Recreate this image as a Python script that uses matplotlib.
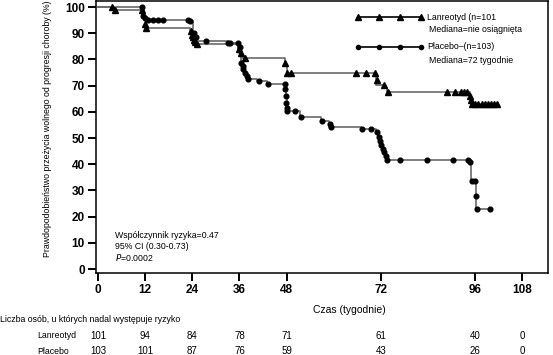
import numpy as np
import matplotlib
matplotlib.use("Agg")
import matplotlib.pyplot as plt
from matplotlib import transforms

plt.rcParams['font.family'] = ['Liberation Sans', 'DejaVu Sans']

# Kaplan-Meier steps (weeks, %)
lan_t = [0, 3.8, 11.8, 12.1, 23.5, 24.0, 24.5, 25.0, 35.6, 36.0, 36.6, 47.6, 48.0, 70.8, 72.6, 73.6, 94.6, 94.9, 101.5]
lan_s = [100, 99.0, 95.0, 92.2, 90.5, 88.8, 87.2, 85.8, 84.0, 82.5, 80.6, 78.0, 74.8, 70.3, 69.0, 67.4, 65.0, 62.9, 62.9]
# censor / event marks for Lanreotyd
lan_mt = [3.6, 4.3, 11.2, 12.0, 12.3, 23.6, 23.9, 24.2, 24.5, 24.8, 25.1, 35.9, 36.3, 37.3, 47.6, 48.0, 49.0,
          65.6, 68.2, 70.6, 71.0, 72.7, 73.8, 88.8, 90.8, 92.4, 93.2, 94.0, 94.7, 94.8,
          95.2, 96.0, 96.8, 97.6, 98.4, 99.2, 100.0, 100.8, 101.5]
lan_ms = [100, 99.0, 99.0, 93.5, 92.2, 91.0, 89.5, 88.5, 87.5, 86.5, 85.8, 84.0, 82.5, 80.6, 78.8, 74.8, 74.8,
          74.8, 74.8, 74.8, 72.0, 70.3, 67.4, 67.4, 67.4, 67.4, 67.4, 67.4, 66.0, 64.5,
          62.9, 62.9, 62.9, 62.9, 62.9, 62.9, 62.9, 62.9, 62.9]

pla_t = [0, 11.3, 11.8, 12.4, 23.3, 24.3, 24.8, 25.3, 33.0, 36.0, 36.3, 36.7, 37.0, 37.3, 37.7, 38.1, 40.5, 43.0,
         47.7, 47.85, 48.0, 48.2, 51.5, 56.8, 58.8, 66.8, 70.8, 71.3, 71.7, 72.0, 72.3, 72.7, 73.1, 73.6,
         94.8, 96.2, 99.7]
pla_s = [100, 96.6, 95.8, 95.0, 94.5, 90.0, 88.5, 87.2, 86.3, 84.8, 78.7, 77.6, 76.4, 75.0, 73.8, 72.6, 71.9, 70.7,
         68.8, 66.0, 63.5, 60.2, 58.2, 56.7, 54.4, 53.5, 52.5, 50.5, 49.0, 47.5, 46.0, 44.5, 43.0, 41.8,
         33.8, 22.8, 22.8]
pla_mt = [11.1, 11.5, 12.0, 12.7, 14.0, 15.3, 16.5, 23.0, 23.5, 24.5, 25.0, 27.5, 33.0, 33.6, 35.6, 36.1,
          36.4, 36.8, 37.0, 37.4, 37.9, 38.2, 41.0, 43.2, 47.6, 47.7, 47.8, 47.9, 48.0, 48.2, 50.2, 51.7,
          57.0, 59.0, 59.2, 67.2, 69.5, 71.0, 71.5, 71.8, 72.1, 72.4, 72.8, 73.2, 73.6, 76.8, 83.7, 90.3,
          94.1, 94.6, 95.1, 95.8, 96.2, 96.4, 99.7]
pla_ms = [100, 96.6, 95.8, 95.0, 95.0, 95.0, 95.0, 95.0, 94.5, 90.0, 88.5, 87.2, 86.3, 86.3, 86.3, 84.8,
          78.7, 77.6, 76.4, 75.0, 73.8, 72.6, 71.9, 70.7, 70.7, 68.8, 66.0, 63.5, 61.5, 60.2, 60.2, 58.2,
          56.7, 55.5, 54.4, 53.5, 53.5, 52.5, 50.5, 49.0, 47.5, 46.0, 44.5, 43.0, 41.8, 41.8, 41.8, 41.8,
          41.8, 41.0, 33.8, 33.8, 27.8, 22.8, 22.8]

xticks = [0, 12, 24, 36, 48, 72, 96, 108]
risk_lan = [101, 94, 84, 78, 71, 61, 40, 0]
risk_pla = [103, 101, 87, 76, 59, 43, 26, 0]

fig = plt.figure(figsize=(5.53, 3.55), dpi=100)
ax = fig.add_axes([0.1736, 0.231, 0.8174, 0.766])

line_col = '#6a6a6a'
ax.step(lan_t, lan_s, where='post', color=line_col, lw=1.2, zorder=2)
ax.step(pla_t, pla_s, where='post', color=line_col, lw=1.2, zorder=2)
ax.plot(lan_mt, lan_ms, ls='none', marker='^', ms=3.8, color='black', zorder=3)
ax.plot(pla_mt, pla_ms, ls='none', marker='o', ms=3.4, color='black', zorder=3)

ax.set_xlim(-0.5, 114.5)
ax.set_ylim(-1.5, 102.3)
ax.set_xticks(xticks)
ax.set_yticks(range(0, 101, 10))
ax.tick_params(axis='both', direction='out', length=6, width=1.4, labelsize=8.5, pad=2)
for lab in ax.get_xticklabels() + ax.get_yticklabels():
    lab.set_fontweight('bold')
for sp in ax.spines.values():
    sp.set_linewidth(1.1)

ax.set_ylabel('Prawdopodobieństwo przeżycia wolnego od progresji choroby (%)', fontsize=6.3)
ax.yaxis.set_label_coords(-0.097, 0.53)

# legend drawn by hand
lx = np.linspace(66.2, 82.2, 4)
ax.plot(lx, [96.2] * 4, color='black', lw=1.2, marker='^', ms=4.2)
ax.plot(lx, [84.8] * 4, color='black', lw=1.2, marker='o', ms=3.0)
ax.text(83.8, 96.2, 'Lanreotyd (n=101', fontsize=6.3, va='center')
ax.text(84.2, 91.3, 'Mediana=nie osiągnięta', fontsize=6.3, va='center')
ax.text(83.8, 84.8, 'Placebo\u2013(n=103)', fontsize=6.3, va='center')
ax.text(84.2, 79.8, 'Mediana=72 tygodnie', fontsize=6.3, va='center')

ax.text(4.3, 12.9, 'Współczynnik ryzyka=0.47', fontsize=6.3, va='center')
ax.text(4.3, 8.7, '95% CI (0.30-0.73)', fontsize=6.3, va='center')
ax.text(4.3, 4.6, '$P$=0.0002', fontsize=6.3, va='center')

trans = transforms.blended_transform_factory(ax.transData, fig.transFigure)
ax.text(64.0, 1 - 310 / 355, 'Czas (tygodnie)', transform=trans, fontsize=7.5, ha='center', va='center')
fig.text(0.0, 1 - 319 / 355, 'Liczba osób, u których nadal występuje ryzyko', fontsize=6.3, va='center')
fig.text(37 / 553, 1 - 336 / 355, 'Lanreotyd', fontsize=6.3, va='center')
fig.text(37 / 553, 1 - 351 / 355, 'Placebo', fontsize=6.3, va='center')
for x, a, b in zip(xticks, risk_lan, risk_pla):
    ax.text(x, 1 - 336 / 355, str(a), transform=trans, fontsize=7, ha='center', va='center', clip_on=False)
    ax.text(x, 1 - 351 / 355, str(b), transform=trans, fontsize=7, ha='center', va='center', clip_on=False)

fig.savefig('out.png', dpi=100)
